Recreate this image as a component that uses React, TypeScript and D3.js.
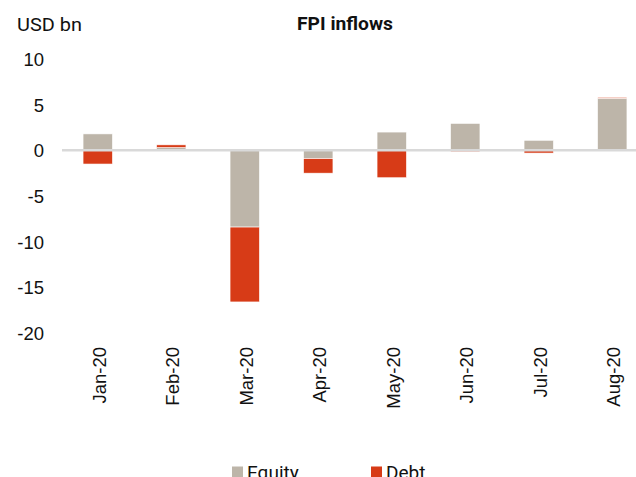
import React from "react";
import * as d3 from "d3";

const categories = ["Jan-20", "Feb-20", "Mar-20", "Apr-20", "May-20", "Jun-20", "Jul-20", "Aug-20"];
const equity = [1.8, 0.3, -8.4, -0.9, 2.0, 2.95, 1.1, 5.7];
const debt = [-1.5, 0.3, -8.2, -1.6, -3.0, -0.15, -0.3, 0.1];
const yTicks = [10, 5, 0, -5, -10, -15, -20];
const seriesNames = ["Equity", "Debt"];
const colors = ["#bdb5a9", "#d73b17"];

export default function App() {
  const W = 636, H = 477;
  const x = d3.scaleBand().domain(categories).range([61, 649]).paddingInner(0.6).paddingOuter(0.3);
  const y = d3.scaleLinear().domain([-20, 10]).range([333, 59]);
  const rows = categories.map((c, i) => ({ cat: c, Equity: equity[i], Debt: debt[i] }));
  const stack = d3.stack<any>().keys(seriesNames).offset(d3.stackOffsetDiverging);
  const layers = stack(rows);
  const arial = "'Liberation Sans', Arial, sans-serif";
  return (
    <svg width={W} height={H} style={{ position: "absolute", left: 0, top: 0 }}>
      <rect width={W} height={H} fill="#fff" />
      <text x={17} y={31} fontFamily="Roboto, sans-serif" fontSize={19} fill="#111" textLength={65} lengthAdjust="spacingAndGlyphs">USD bn</text>
      <text x={297} y={30} fontFamily="Roboto, sans-serif" fontWeight="bold" fontSize={18} fill="#111" textLength={96} lengthAdjust="spacingAndGlyphs">FPI inflows</text>
      {yTicks.map((t) => (
        <text key={t} x={44} y={y(t) + 7} textAnchor="end" fontFamily={arial} fontSize={18.5} fill="#111">{t}</text>
      ))}
      {layers.map((layer, li) =>
        layer.map((d, i) => {
          const y0 = y(Math.max(d[0], d[1]));
          const y1 = y(Math.min(d[0], d[1]));
          return (
            <rect key={li + "-" + i} x={x(categories[i])!} y={y0} width={x.bandwidth()} height={Math.max(0, y1 - y0)}
              fill={colors[li]} stroke="#fff" strokeWidth={0.6} />
          );
        })
      )}
      <line x1={62} x2={636} y1={y(0)} y2={y(0)} stroke="#d9d9d9" strokeWidth={2.5} />
      {categories.map((c) => {
        const cx = x(c)! + x.bandwidth() / 2 + 8;
        return (
          <text key={c} transform={`translate(${cx},347) rotate(-90)`} textAnchor="end" fontFamily={arial} fontSize={18.5} fill="#111">{c}</text>
        );
      })}
      {seriesNames.map((s, i) => (
        <g key={s} transform={`translate(${i === 0 ? 232 : 371},466)`}>
          <rect x={0} y={0.5} width={11} height={11} fill={colors[i]} />
          <text x={15} y={12.5} fontFamily="Roboto, sans-serif" fontSize={19} fill="#111">{s}</text>
        </g>
      ))}
    </svg>
  );
}
